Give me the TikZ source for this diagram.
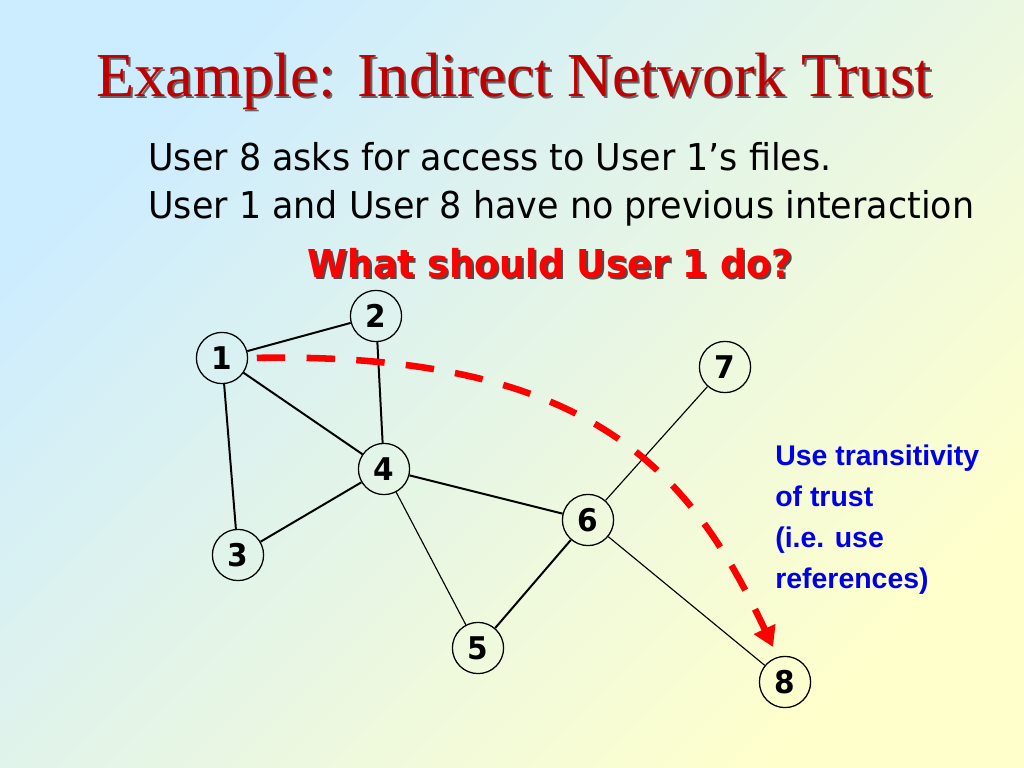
\documentclass[tikz,border=0pt]{standalone}
\usepackage{fontspec}
\usepackage{tikz}
\usetikzlibrary{arrows.meta}
\setmainfont{Liberation Serif}
\newfontfamily\tahoma[FakeStretch=0.945]{DejaVu Sans}
\newfontfamily\arial{Liberation Sans}
\definecolor{bgblue}{RGB}{204,236,255}
\definecolor{bgyellow}{RGB}{255,255,204}
\definecolor{titlered}{RGB}{192,0,0}
\definecolor{noteblue}{RGB}{0,0,230}

\begin{document}
\begin{tikzpicture}[x=0.703125pt,y=-0.703125pt,
  user/.style={circle,draw,line width=0.9pt,minimum size=36pt,inner sep=0pt,
    font=\tahoma\bfseries\fontsize{22}{26}\selectfont},
  link/.style={line width=1.4pt},
  thinlink/.style={line width=0.8pt},
  txt/.style={inner sep=0pt,anchor=base west},
  note/.style={txt,text=noteblue,font=\arial\bfseries\fontsize{20}{24}\selectfont}]
\shade[top color=bgblue,bottom color=bgyellow,shading angle=45] (0,0) rectangle (1024,768);
\useasboundingbox (0,0) rectangle (1024,768);

% heading
\node[txt,anchor=base,text=black!60] (titleshadow) at (516,99)
  {\fontsize{44}{52}\selectfont Example: Indirect Network Trust};
\node[txt,anchor=base,text=titlered] (title) at (514,97)
  {\fontsize{44}{52}\selectfont Example: Indirect Network Trust};
\node[txt,font=\tahoma\fontsize{26}{31}\selectfont] (line1) at (148,171) {User 8 asks for access to User 1’s files.};
\node[txt,font=\tahoma\fontsize{26}{31}\selectfont] (line2) at (148,219) {User 1 and User 8 have no previous interaction};
\node[txt,anchor=base,text=black!70,font=\tahoma\bfseries\fontsize{27}{33}\selectfont] (askshadow) at (552,280) {What should User 1 do?};
\node[txt,anchor=base,text=red,font=\tahoma\bfseries\fontsize{27}{33}\selectfont] (ask) at (550,278) {What should User 1 do?};

% users
\node[user] (u1) at (222,358) {1};
\node[user] (u2) at (376,316) {2};
\node[user] (u3) at (238,555) {3};
\node[user] (u4) at (384,469) {4};
\node[user] (u5) at (478,648) {5};
\node[user] (u6) at (588,520) {6};
\node[user] (u7) at (725,367) {7};
\node[user] (u8) at (785,682) {8};

\draw[link] (u1) -- (u2);
\draw[link] (u1) -- (u3);
\draw[link] (u1) -- (u4);
\draw[link] (u2) -- (u4);
\draw[link] (u3) -- (u4);
\draw[link] (u4) -- (u6);
\draw[link] (u5) -- (u6);
\draw[thinlink] (u4) -- (u5);
\draw[thinlink] (u6) -- (u7);
\draw[thinlink] (u6) -- (u8);

% trust path
\coordinate (tip) at (773,647);
\draw[red,line width=4.6pt,dash pattern=on 20pt off 15pt,shorten <=6pt,
  -{Triangle[length=14pt,width=16pt]}] (u1.east) .. controls (590,352) and (690,470) .. (tip);

\foreach \txtline [count=\i] in {Use transitivity,of trust,{(i.e. use},{references)}}
  \node[note] (note\i) at (775,{465+41*(\i-1)}) {\txtline};
\end{tikzpicture}
\end{document}
